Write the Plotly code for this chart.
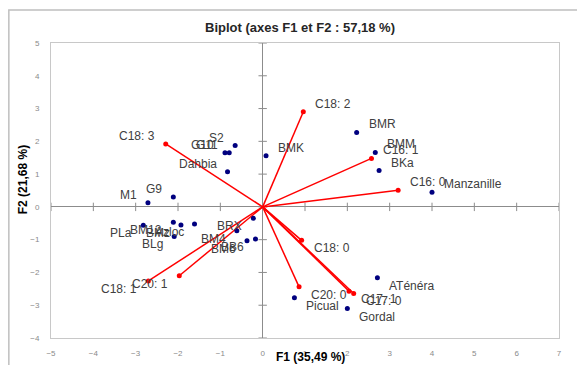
import plotly.graph_objects as go

# ---- data ----
obs_labels = ["BMK", "BMR", "BMM", "BKa", "Manzanille", "ATénéra", "Gordal", "Picual",
              "S2", "G10", "G11", "Dahbia", "G9", "M1",
              "BM12", "BMz", "Azloc", "BLg", "PLa",
              "BRX", "BM4", "BM6", "BB6"]
obs_x = [0.08, 2.22, 2.66, 2.75, 4.00, 2.71, 2.00, 0.75,
         -0.65, -0.89, -0.79, -0.83, -2.11, -2.71,
         -2.11, -1.93, -1.61, -2.09, -2.82,
         -0.22, -0.61, -0.37, -0.17]
obs_y = [1.56, 2.27, 1.66, 1.11, 0.45, -2.16, -3.10, -2.77,
         1.87, 1.65, 1.65, 1.07, 0.30, 0.13,
         -0.47, -0.55, -0.52, -0.90, -0.56,
         -0.35, -0.73, -1.03, -0.98]

var_labels = ["C18: 2", "C16: 1", "C16: 0", "C18: 3", "C18: 1", "C20: 1",
              "C18: 0", "C20: 0", "C17: 1", "C17: 0"]
var_x = [0.96, 2.57, 3.20, -2.29, -2.70, -1.97, 0.92, 0.86, 2.04, 2.15]
var_y = [2.90, 1.48, 0.51, 1.92, -2.26, -2.10, -1.02, -2.44, -2.57, -2.64]

x_ticks = [-5, -4, -3, -2, -1, 0, 1, 2, 3, 4, 5, 6, 7]
y_ticks = [-4, -3, -2, -1, 0, 1, 2, 3, 4, 5]

title_text = "Biplot (axes F1 et F2 : 57,18 %)"
x_title = "F1 (35,49 %)"
y_title = "F2 (21,68 %)"

FONT = "Liberation Sans, Arial, sans-serif"
LABEL_COLOR = "#404040"

fig = go.Figure()

# small tick marks on the zero axes
fig.add_trace(go.Scatter(x=x_ticks, y=[0] * len(x_ticks), mode="markers",
                         marker=dict(symbol="line-ns", size=6, line=dict(color="#8c8c8c", width=1)),
                         hoverinfo="skip", showlegend=False))
fig.add_trace(go.Scatter(x=[0] * len(y_ticks), y=y_ticks, mode="markers",
                         marker=dict(symbol="line-ew", size=6, line=dict(color="#8c8c8c", width=1)),
                         hoverinfo="skip", showlegend=False))

# vectors
lx, ly = [], []
for vx, vy in zip(var_x, var_y):
    lx += [0, vx, None]
    ly += [0, vy, None]
fig.add_trace(go.Scatter(x=lx, y=ly, mode="lines", line=dict(color="#ff0000", width=1.5),
                         hoverinfo="skip", showlegend=False))
fig.add_trace(go.Scatter(x=var_x, y=var_y, mode="markers",
                         marker=dict(color="#ff0000", size=5), showlegend=False))

# observations
fig.add_trace(go.Scatter(x=obs_x, y=obs_y, mode="markers",
                         marker=dict(color="#00007f", size=5), showlegend=False))

# labels
def add_labels(labels, xs, ys):
    for t, x, y in zip(labels, xs, ys):
        fig.add_annotation(x=x, y=y, text=t, showarrow=False,
                           xanchor="left" if x >= 0 else "right", yanchor="middle",
                           xshift=10 if x >= 0 else -9, yshift=8 if y >= 0 else -8,
                           font=dict(family=FONT, size=12, color=LABEL_COLOR))

add_labels(obs_labels, obs_x, obs_y)
add_labels(var_labels, var_x, var_y)

# titles
fig.add_annotation(xref="paper", yref="paper", x=0.49, y=1.02, text="<b>" + title_text + "</b>",
                   showarrow=False, xanchor="center", yanchor="bottom",
                   font=dict(family=FONT, size=13, color="#262626"))
fig.add_annotation(xref="paper", yref="paper", x=0.51, y=-0.066, text="<b>" + x_title + "</b>",
                   showarrow=False, xanchor="center", yanchor="middle",
                   font=dict(family=FONT, size=12, color="#000000"))
fig.add_annotation(xref="paper", yref="paper", x=-0.055, y=0.535, text="<b>" + y_title + "</b>",
                   showarrow=False, xanchor="center", yanchor="middle", textangle=-90,
                   font=dict(family=FONT, size=12, color="#000000"))

# outer chart border (left and top visible)
fig.add_shape(type="rect", xref="paper", yref="paper",
              x0=-0.083, x1=1.1, y0=-0.2, y1=1.112,
              line=dict(color="#bfbfbf", width=1.5), fillcolor="rgba(0,0,0,0)", layer="below")

axis_common = dict(showgrid=False, zeroline=True, zerolinecolor="#8c8c8c", zerolinewidth=1,
                   showline=True, mirror=True, linecolor="#c8c8c8", linewidth=1,
                   ticks="", automargin=False,
                   tickfont=dict(family=FONT, size=8, color="#8a8a8a"))

fig.update_layout(
    width=577, height=357,
    margin=dict(l=43, r=26, t=35, b=27, autoexpand=False),
    paper_bgcolor="white", plot_bgcolor="white",
    showlegend=False,
    xaxis=dict(range=[-5, 7], tickvals=x_ticks, ticklabelstandoff=7, **axis_common),
    yaxis=dict(range=[-4, 5], tickvals=y_ticks, ticklabelstandoff=9, **axis_common),
)

fig.write_html("out.html")
